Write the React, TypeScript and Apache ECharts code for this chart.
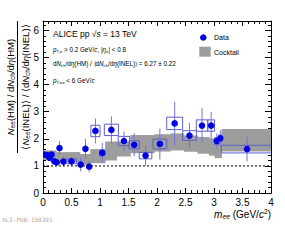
import React, { useEffect, useRef } from 'react';
import * as echarts from 'echarts';

// ---- data ----
const massValues = [0.02, 0.07, 0.115, 0.15, 0.2, 0.24, 0.29, 0.36, 0.5, 0.66, 0.745, 0.81, 0.92, 1.04, 1.2, 1.42, 1.6, 1.8, 2.05, 2.31, 2.57, 2.79, 2.95, 3.05, 3.11, 3.58];
const ratioValues = [1.42, 1.4, 1.3, 1.42, 1.17, 1.13, 1.66, 1.16, 1.17, 1.05, 1.63, 0.97, 2.29, 1.48, 2.33, 1.92, 1.78, 1.38, 1.81, 2.57, 2.12, 2.49, 2.49, 1.92, 2.02, 1.62];
const statErrors = [0.08, 0.08, 0.1, 0.1, 0.1, 0.12, 0.26, 0.18, 0.18, 0.25, 0.37, 0.21, 0.46, 0.37, 0.5, 0.35, 0.43, 0.37, 0.57, 0.8, 0.46, 0.64, 0.51, 0.28, 0.3, 0.45];
const sysHalfWidth = [0.015, 0.015, 0.015, 0.015, 0.015, 0.015, 0.02, 0.04, 0.09, 0.04, 0.02, 0.02, 0.08, 0.044, 0.124, 0.1, 0.09, 0.11, 0.12, 0.14, 0.12, 0.1, 0.06, 0.035, 0.03, 0.45];
const sysHalfHeight = [0.05, 0.05, 0.05, 0.05, 0.05, 0.05, 0.06, 0.06, 0.09, 0.07, 0.07, 0.05, 0.21, 0.11, 0.21, 0.17, 0.15, 0.12, 0.18, 0.23, 0.18, 0.21, 0.21, 0.13, 0.12, 0.14];

const cocktailBinLow = [0, 0.23, 0.645, 0.83, 1.09, 1.29, 1.53, 1.95, 2.235, 2.47, 2.71, 2.91, 3.01, 3.13];
const cocktailBinHigh = [0.23, 0.645, 0.83, 1.09, 1.29, 1.53, 1.95, 2.235, 2.47, 2.71, 2.91, 3.01, 3.13, 4.0];
const cocktailLower = [1.22, 1.13, 1.04, 1.1, 1.2, 1.35, 1.47, 1.53, 1.57, 1.52, 1.45, 1.38, 1.29, 1.53];
const cocktailUpper = [1.57, 1.51, 1.44, 1.62, 1.9, 1.9, 2.14, 2.17, 2.2, 2.12, 2.07, 2.02, 1.98, 2.36];

const referenceLine = [[0, 1], [4, 1]];

const xMajorTicks = 0.5;
const xMinorTicks = 0.1;
const yMajorTicks = 1;
const yMinorTicks = 0.2;

const FONT = '"Liberation Sans", Arial, Helvetica, sans-serif';
const BLUE = '#0000e6';
const GRAY = '#9d9d9d';

function richSet(base: number) {
  const sub = Math.round(base * 0.68 * 10) / 10;
  return {
    n: { fontSize: base, fontFamily: FONT, fill: '#000', lineHeight: base + 2 },
    i: { fontSize: base, fontFamily: FONT, fontStyle: 'italic', fill: '#000', lineHeight: base + 2 },
    s: { fontSize: sub, fontFamily: FONT, fill: '#000', verticalAlign: 'bottom', lineHeight: sub + 1 },
    si: { fontSize: sub, fontFamily: FONT, fontStyle: 'italic', fill: '#000', verticalAlign: 'bottom', lineHeight: sub + 1 },
    u: { fontSize: sub, fontFamily: FONT, fill: '#000', verticalAlign: 'top', lineHeight: sub + 1 },
  };
}

function txt(text: string, x: number, y: number, size: number, align: string = 'left', extra: any = {}) {
  return {
    type: 'text',
    x,
    y,
    silent: true,
    style: {
      text,
      rich: richSet(size),
      fontSize: size,
      fontFamily: FONT,
      fill: '#000',
      align,
      verticalAlign: 'middle',
    },
    ...extra,
  };
}

export default function App() {
  const ref = useRef<HTMLDivElement>(null);
  useEffect(() => {
    const chart = echarts.init(ref.current!, null, { renderer: 'svg' });

    const pointData = massValues.map((m, i) => [m, ratioValues[i], statErrors[i], sysHalfWidth[i], sysHalfHeight[i]]);
    const bandData = cocktailBinLow.map((lo, i) => [lo, cocktailBinHigh[i], cocktailLower[i], cocktailUpper[i]]);

    const mkX = (grid: number, pos: string, interval: number, len: number, labels: boolean, line: boolean) => ({
      type: 'value',
      gridIndex: grid,
      position: pos,
      min: 0,
      max: 4,
      interval,
      axisLine: { show: line, onZero: false, lineStyle: { color: '#000', width: 1 } },
      axisTick: { show: true, inside: true, length: len, lineStyle: { color: '#000', width: 1 } },
      axisLabel: {
        show: labels,
        color: '#000',
        fontSize: 10,
        fontFamily: FONT,
        margin: 4,
        formatter: (v: number) => (Math.abs(v - Math.round(v)) < 1e-6 ? String(Math.round(v)) : String(v)),
      },
      splitLine: { show: false },
    });
    const mkY = (grid: number, pos: string, interval: number, len: number, labels: boolean, line: boolean) => ({
      type: 'value',
      gridIndex: grid,
      position: pos,
      min: 0,
      max: 6.35,
      interval,
      axisLine: { show: line, onZero: false, lineStyle: { color: '#000', width: 1 } },
      axisTick: { show: true, inside: true, length: len, lineStyle: { color: '#000', width: 1 } },
      axisLabel: {
        show: labels,
        color: '#000',
        fontSize: 10,
        fontFamily: FONT,
        margin: 4,
        showMaxLabel: false,
        formatter: (v: number) => (Math.abs(v - Math.round(v)) < 1e-6 ? String(Math.round(v)) : ''),
      },
      splitLine: { show: false },
    });

    const gridBox = { left: 43, right: 14, top: 21, bottom: 47, containLabel: false };
    const yTitleCenter = 87;
    const option: any = {
      animation: false,
      backgroundColor: '#fff',
      grid: [gridBox, { ...gridBox }],
      xAxis: [
        mkX(0, 'bottom', xMajorTicks, 5, true, true),
        mkX(0, 'top', xMajorTicks, 5, false, true),
        mkX(1, 'bottom', xMinorTicks, 3, false, false),
        mkX(1, 'top', xMinorTicks, 3, false, false),
      ],
      yAxis: [
        mkY(0, 'left', yMajorTicks, 6, true, true),
        mkY(0, 'right', yMajorTicks, 6, false, true),
        mkY(1, 'left', yMinorTicks, 3, false, false),
        mkY(1, 'right', yMinorTicks, 3, false, false),
      ],
      series: [
        {
          type: 'custom',
          name: 'Cocktail',
          xAxisIndex: 0,
          yAxisIndex: 0,
          clip: true,
          data: bandData,
          renderItem: (params: any, api: any) => {
            const p0 = api.coord([api.value(0), api.value(3)]);
            const p1 = api.coord([api.value(1), api.value(2)]);
            return {
              type: 'rect',
              shape: { x: p0[0], y: p0[1], width: p1[0] - p0[0] + 0.5, height: p1[1] - p0[1] },
              style: { fill: GRAY },
            };
          },
        },
        {
          type: 'line',
          xAxisIndex: 0,
          yAxisIndex: 0,
          data: referenceLine,
          symbol: 'none',
          lineStyle: { color: '#000', width: 1, type: [2, 2] },
          silent: true,
        },
        {
          type: 'custom',
          name: 'Data',
          xAxisIndex: 0,
          yAxisIndex: 0,
          clip: true,
          data: pointData,
          renderItem: (params: any, api: any) => {
            const m = api.value(0);
            const v = api.value(1);
            const e = api.value(2);
            const sw = api.value(3);
            const sh = api.value(4);
            const c = api.coord([m, v]);
            const bTL = api.coord([m - sw, v + sh]);
            const bBR = api.coord([m + sw, v - sh]);
            const eT = api.coord([m, v + e]);
            const eB = api.coord([m, v - e]);
            return {
              type: 'group',
              children: [
                {
                  type: 'rect',
                  shape: { x: bTL[0], y: bTL[1], width: bBR[0] - bTL[0], height: bBR[1] - bTL[1] },
                  style: { fill: 'none', stroke: '#5f5fcf', lineWidth: 1 },
                },
                {
                  type: 'line',
                  shape: { x1: eT[0], y1: eT[1], x2: eB[0], y2: eB[1] },
                  style: { stroke: '#7272e0', lineWidth: 1 },
                },
                {
                  type: 'circle',
                  shape: { cx: c[0], cy: c[1], r: 3.3 },
                  style: { fill: BLUE },
                },
              ],
            };
          },
        },
      ],
      graphic: [
        txt('{n|ALICE pp }{n|√}{i|s}{n| = 13 TeV}', 53, 34, 8.5),
        txt('{i|p}{s|T,e}{n| > 0.2 GeV/}{i|c}{n|, |}{i|η}{s|e}{n|| < 0.8}', 53, 49.5, 6.3),
        txt('{n|d}{i|N}{s|ch}{n|/d}{i|η}{n|(HM) / ⟨d}{i|N}{s|ch}{n|/d}{i|η}{n|(INEL)⟩ = 6.27 ± 0.22}', 53, 63, 6.3),
        txt('{i|p}{s|T,ee}{n| < 6 GeV/}{i|c}', 53, 80, 6.3),
        { type: 'circle', shape: { cx: 203.3, cy: 37.5, r: 3.3 }, style: { fill: BLUE }, silent: true },
        txt('{n|Data}', 214, 37.5, 7),
        { type: 'rect', shape: { x: 199.3, y: 46.7, width: 11.4, height: 10 }, style: { fill: GRAY }, silent: true },
        txt('{n|Cocktail}', 214, 52, 7),
        txt('{i|m}{si|ee}{n| (GeV/}{i|c}{u|2}{n|)}', 271, 214, 10, 'right'),
        {
          type: 'group',
          x: 17.5,
          y: yTitleCenter,
          rotation: Math.PI / 2,
          silent: true,
          children: [
            txt('{i|N}{s|ee}{n|(HM) / d}{i|N}{s|ch}{n|/d}{i|η}{n|(HM)}', 0, -7.5, 9.5, 'center'),
            txt('{n|⟨}{i|N}{s|ee}{n|(INEL)⟩ / ⟨d}{i|N}{s|ch}{n|/d}{i|η}{n|(INEL)⟩}', 0, 7.5, 9.5, 'center'),
            { type: 'line', shape: { x1: -66, y1: 0, x2: 66, y2: 0 }, style: { stroke: '#000', lineWidth: 1 } },
          ],
        },
        {
          type: 'text',
          x: 2,
          y: 219,
          silent: true,
          style: { text: 'ALI-PUB-150391', fontSize: 6, fontFamily: '"DejaVu Sans Mono", monospace', fill: '#aaaaaa', verticalAlign: 'middle' },
        },
      ],
    };
    chart.setOption(option);
    return () => chart.dispose();
  }, []);
  return <div ref={ref} style={{ position: 'fixed', left: 0, top: 0, width: 285, height: 240, background: '#fff' }} />;
}
